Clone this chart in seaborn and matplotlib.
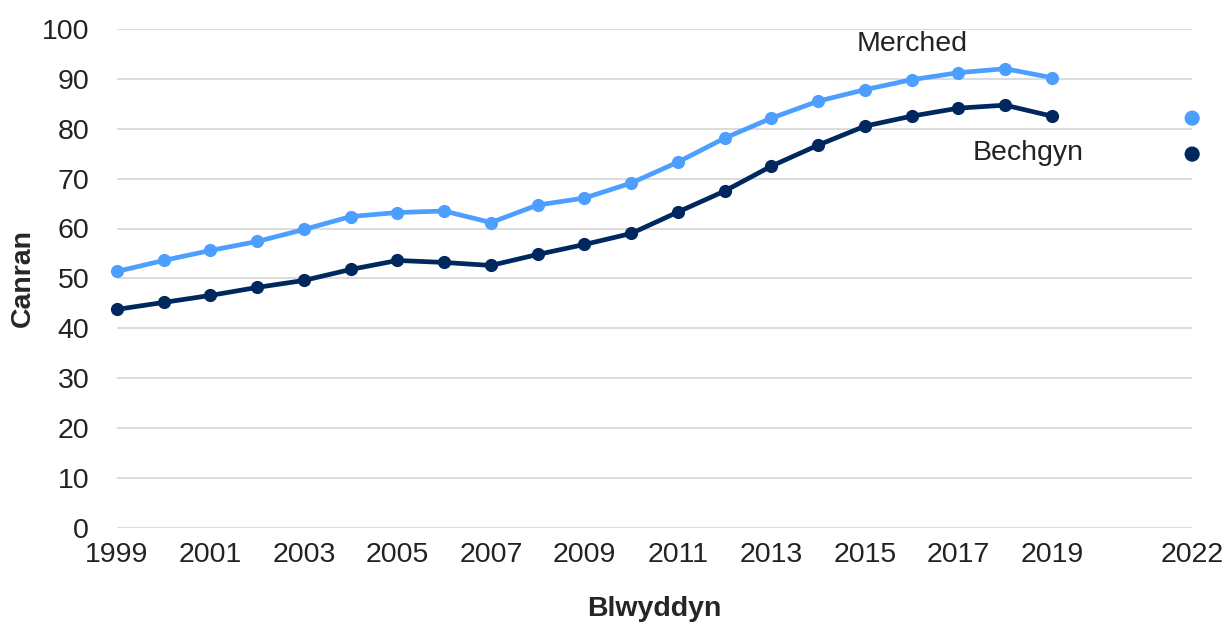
import pandas as pd
import matplotlib.pyplot as plt
import seaborn as sns

# percentages
years = list(range(1999, 2020))
merched = [51.4, 53.6, 55.6, 57.4, 59.8, 62.4, 63.2, 63.5, 61.2, 64.7, 66.1,
           69.1, 73.3, 78.1, 82.1, 85.5, 87.8, 89.8, 91.2, 92.0, 90.2]
bechgyn = [43.8, 45.2, 46.6, 48.2, 49.6, 51.8, 53.6, 53.2, 52.6, 54.8, 56.8,
           59.0, 63.3, 67.5, 72.5, 76.7, 80.5, 82.5, 84.1, 84.7, 82.5]
year_2022 = [2022]
merched_2022 = [82.1]
bechgyn_2022 = [74.9]
tick_years = list(range(1999, 2020, 2)) + [2022]

light = '#4d9fff'
dark = '#00285f'

df = pd.DataFrame({'year': years * 2,
                   'value': merched + bechgyn,
                   'group': ['Merched'] * len(years) + ['Bechgyn'] * len(years)})
df22 = pd.DataFrame({'year': year_2022 * 2,
                     'value': merched_2022 + bechgyn_2022,
                     'group': ['Merched', 'Bechgyn']})
pal = {'Merched': light, 'Bechgyn': dark}

sns.set_style('white')
plt.rcParams['font.family'] = ['Liberation Sans', 'DejaVu Sans']

fig = plt.figure(figsize=(12.26, 6.25), dpi=100)
ax = fig.add_axes([0.0954, 0.155, 0.877, 0.799])

sns.lineplot(data=df, x='year', y='value', hue='group', palette=pal,
             marker='o', markersize=9.5, markeredgewidth=0, linewidth=3.4,
             legend=False, ax=ax, zorder=3, clip_on=False)
sns.scatterplot(data=df22, x='year', y='value', hue='group', palette=pal,
                s=120, edgecolor='none', legend=False, ax=ax, zorder=3,
                clip_on=False)

ax.set_xlim(1999, 2022)
ax.set_ylim(0, 100)
ax.set_yticks(range(0, 101, 10))
ax.set_xticks(tick_years)
ax.set_xticklabels([str(y) for y in tick_years])
ax.yaxis.grid(True, color='#d9d9d9', linewidth=1.3)
ax.set_axisbelow(True)
for s in ax.spines.values():
    s.set_visible(False)
ax.tick_params(axis='both', length=0, labelsize=20.5, colors='#222222')
ax.tick_params(axis='y', pad=20)
ax.tick_params(axis='x', pad=10)

ax.set_xlabel('Blwyddyn', fontsize=20.5, fontweight='bold', labelpad=20)
ax.set_ylabel('Canran', fontsize=20.5, fontweight='bold', labelpad=4)

ax.text(2016.0, 97.0, 'Merched', fontsize=20.5, ha='center', va='center', color='#222222')
ax.text(2018.5, 75.2, 'Bechgyn', fontsize=20.5, ha='center', va='center', color='#222222')

plt.savefig('out.png', dpi=100)
